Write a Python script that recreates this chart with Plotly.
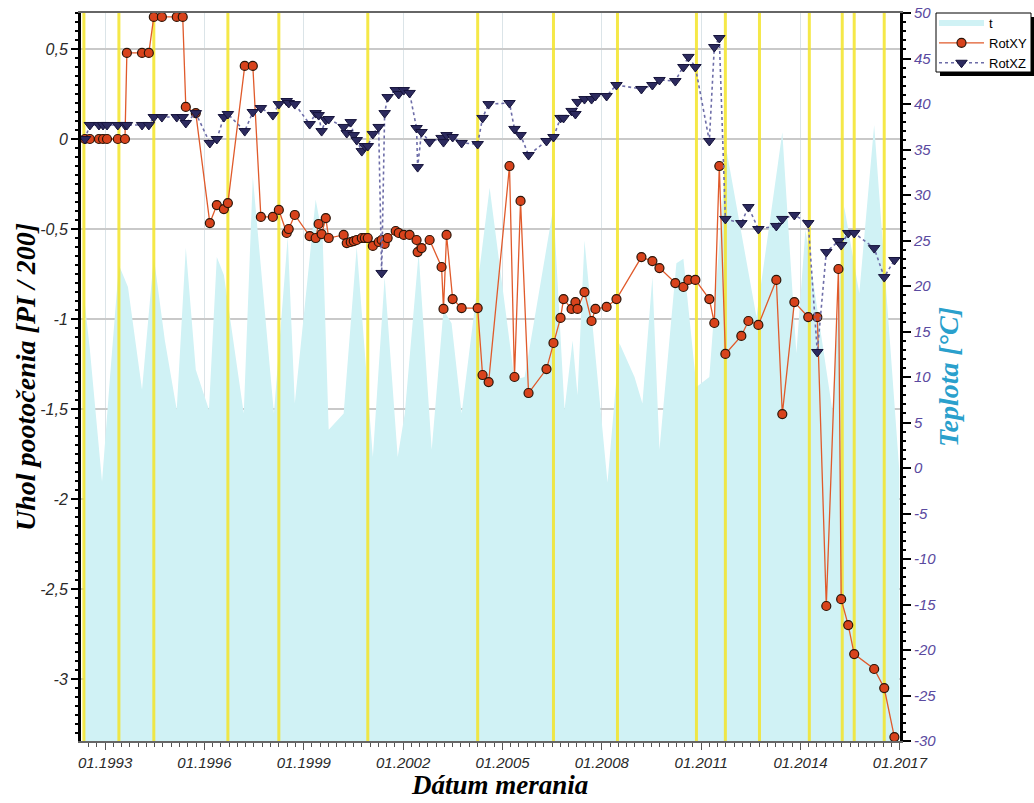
import plotly.graph_objects as go

# ---------------- data ----------------
meas_dates = [
    "1992-05-24","1992-07-17","1992-10-25","1992-12-09","1993-01-22","1993-05-21","1993-08-08","1993-08-29","1994-02-12","1994-04-28",
    "1994-06-22","1994-09-19","1995-03-02","1995-05-07","1995-06-10","1995-09-28","1996-03-01","1996-05-17","1996-08-03","1996-09-16",
    "1997-03-21","1997-06-18","1997-09-15","1998-01-25","1998-04-01","1998-06-27","1998-07-19","1998-09-24","1999-03-07","1999-05-12",
    "1999-06-14","1999-07-17","1999-09-01","1999-10-03","2000-03-16","2000-04-19","2000-06-02","2000-07-05","2000-08-07","2000-10-02",
    "2000-11-04","2000-12-07","2001-02-01","2001-04-06","2001-05-09","2001-06-11","2001-07-14","2001-10-11","2001-11-13","2002-01-08",
    "2002-03-13","2002-05-29","2002-06-10","2002-07-23","2002-10-20","2003-03-01","2003-03-22","2003-04-25","2003-07-01","2003-10-08",
    "2004-04-02","2004-05-26","2004-08-01","2005-03-19","2005-05-13","2005-07-19","2005-10-15","2006-05-01","2006-07-17","2006-10-03",
    "2006-11-05","2007-02-02","2007-03-16","2007-04-08","2007-06-24","2007-09-10","2007-10-23","2008-02-23","2008-06-11","2009-03-13",
    "2009-07-12","2009-09-28","2010-03-22","2010-06-19","2010-08-13","2010-10-29","2011-04-01","2011-05-26","2011-07-20","2011-09-25",
    "2012-03-19","2012-06-05","2012-09-23","2013-04-09","2013-06-14","2013-10-25","2014-03-27","2014-07-05","2014-10-12","2015-02-23",
    "2015-03-25","2015-06-11","2015-08-16","2016-03-23","2016-07-12","2016-11-01",
]

rot_xy = [
    0, 0, 0, 0, 0, 0, 0, 0.478, 0.478, 0.478,
    0.678, 0.678, 0.678, 0.678, 0.178, 0.144, -0.467, -0.367, -0.389, -0.356,
    0.406, 0.406, -0.433, -0.433, -0.394, -0.522, -0.5, -0.422, -0.539, -0.55,
    -0.472, -0.528, -0.439, -0.55, -0.533, -0.578, -0.572, -0.567, -0.561, -0.55,
    -0.55, -0.55, -0.594, -0.572, -0.561, -0.583, -0.55, -0.511, -0.522, -0.533,
    -0.533, -0.561, -0.628, -0.606, -0.561, -0.711, -0.944, -0.533, -0.889, -0.939,
    -0.939, -1.311, -1.35, -0.15, -1.322, -0.344, -1.411, -1.278, -1.133, -0.994,
    -0.889, -0.944, -0.906, -0.944, -0.85, -1.011, -0.944, -0.933, -0.889, -0.656,
    -0.678, -0.717, -0.8, -0.822, -0.783, -0.783, -0.889, -1.022, -0.15, -1.194,
    -1.094, -1.011, -1.033, -0.783, -1.528, -0.906, -0.989, -0.989, -2.594, -0.722,
    -2.556, -2.7, -2.861, -2.944, -3.05, -3.322,
]

rot_xz = [
    0, 0.078, 0.078, 0.078, 0.078, 0.078, 0.078, 0.078, 0.078, 0.078,
    0.122, 0.122, 0.122, 0.122, 0.089, 0.144, -0.022, 0, 0.122, 0.139,
    0.044, 0.15, 0.172, 0.133, 0.194, 0.211, 0.2, 0.194, 0.083, 0.144,
    0.133, 0.044, 0.106, 0.111, 0.067, 0.033, 0.094, 0.022, -0.006, -0.067,
    -0.039, -0.039, 0.028, 0.067, -0.744, 0.144, 0.233, 0.272, 0.25, 0.272,
    0.256, 0.061, -0.156, 0.039, -0.017, 0.006, -0.017, 0.022, 0.011, -0.022,
    -0.028, 0.117, 0.194, 0.2, 0.056, 0.022, -0.089, -0.011, 0.011, 0.117,
    0.117, 0.156, 0.139, 0.206, 0.222, 0.222, 0.239, 0.239, 0.3, 0.278,
    0.3, 0.328, 0.322, 0.4, 0.456, 0.4, -0.011, 0.511, 0.561, -0.444,
    -0.467, -0.378, -0.5, -0.483, -0.444, -0.422, -0.467, -1.183, -0.628, -0.567,
    -0.589, -0.522, -0.522, -0.606, -0.767, -0.672,
]

temp_dates = [
    "1992-05-12","1992-07-17","1992-11-28","1993-02-24","1993-06-02","1993-09-10","1994-02-12","1994-06-22","1994-10-22","1995-03-02",
    "1995-06-10","1995-09-28","1996-02-20","1996-05-17","1996-08-03","1997-03-10","1997-06-18","1998-02-06","1998-07-08","1998-09-24",
    "1999-05-12","1999-07-28","1999-10-03","2000-03-16","2000-08-07","2001-02-01","2001-06-11","2001-11-02","2002-01-19","2002-06-21",
    "2002-11-12","2003-03-22","2003-06-19","2003-10-08","2004-08-12","2005-05-13","2005-09-02","2006-07-17","2006-11-16","2007-02-13",
    "2007-04-08","2007-06-24","2008-03-04","2008-07-14","2008-12-27","2009-03-24","2009-07-12","2009-09-28","2010-04-03","2010-06-19",
    "2010-11-10","2011-04-01","2011-10-06","2012-09-02","2013-06-14","2013-11-16","2014-02-24","2014-12-17","2015-04-28","2015-10-11",
    "2016-03-23","2016-12-25",
]
temp_vals = [
    19, 13, -1.5, 10, 22.3, 19.9, 8.6, 23.2, 14, 6.4,
    24.2, 10.8, 6.4, 23.2, 21.2, 6, 32, 6, 25.4, 7.1,
    29.5, 25.4, 4.2, 6, 24.3, 1.2, 21, 1.2, 6, 23.6,
    2, 17.4, 15.9, 6, 30.8, 9.7, 10, 28.7, 6.4, 14,
    8, 25, -1.6, 13.7, 10, 7.1, 21, 2, 22.5, 23,
    8.9, 10, 35, 16.6, 36.9, 12.6, 26.2, 6.4, 28.7, 19.2,
    37.7, -0.2,
]

event_dates = [
    "1992-05-12","1993-06-02","1994-06-22","1996-09-16","1998-04-01","2000-12-07","2004-04-02","2006-07-17",
    "2008-06-22","2010-11-10","2011-09-25","2012-10-05","2014-04-08","2015-04-06","2015-08-16","2016-07-12",
]

angle_ticks = [-3, -2.5, -2, -1.5, -1, -0.5, 0, 0.5]
angle_labels = ["-3", "-2,5", "-2", "-1,5", "-1", "-0,5", "0", "0,5"]
temp_ticks = list(range(-30, 51, 5))
temp_labels = [str(v) for v in temp_ticks]

ANGLE_RANGE = [-3.344, 0.7]
TEMP_RANGE = [-30, 50]

# plot area in pixels (for paper-coordinate helpers)
PL, PR, PT, PB = 81, 900, 13, 741
def px_x(p):
    return (p - PL) / (PR - PL)
def px_y(p):
    return 1 - (p - PT) / (PB - PT)

# ---------------- figure ----------------
fig = go.Figure()

fig.add_trace(go.Scatter(
    x=temp_dates, y=[TEMP_RANGE[0]] * len(temp_dates), mode="lines",
    line=dict(width=0, color="rgba(0,0,0,0)"), showlegend=False,
    hoverinfo="skip", yaxis="y"))
fig.add_trace(go.Scatter(
    x=temp_dates, y=temp_vals, name="t", mode="none", fill="tonexty",
    fillcolor="rgb(208,242,245)", yaxis="y"))

ex, ey = [], []
for d in event_dates:
    ex += [d, d, None]
    ey += [TEMP_RANGE[0], TEMP_RANGE[1], None]
fig.add_trace(go.Scatter(
    x=ex, y=ey, mode="lines", line=dict(color="rgba(243,228,40,0.85)", width=3),
    showlegend=False, hoverinfo="skip", yaxis="y"))

fig.add_trace(go.Scatter(
    x=meas_dates, y=rot_xy, name="RotXY", mode="lines+markers", yaxis="y2",
    line=dict(color="#e05a2b", width=1.3),
    marker=dict(symbol="circle", size=9, color="#d8431c",
                line=dict(color="#2b1508", width=1.2))))
fig.add_trace(go.Scatter(
    x=meas_dates, y=rot_xz, name="RotXZ", mode="lines+markers", yaxis="y2",
    line=dict(color="#6d6da8", width=1.6, dash="dot"),
    marker=dict(symbol="triangle-down", size=10, color="#2c2a5e",
                line=dict(color="#15133a", width=1))))

tick_font = dict(family="Liberation Sans", size=15, color="#2a2a2a", style="italic")

fig.update_layout(
    width=1034, height=803,
    margin=dict(l=PL, r=1034 - PR, t=PT, b=803 - PB, autoexpand=False),
    paper_bgcolor="white", plot_bgcolor="white",
    showlegend=True,
    legend=dict(x=px_x(934), y=px_y(8), xanchor="left", yanchor="top",
                bgcolor="rgba(0,0,0,0)", borderwidth=0,
                traceorder="normal",
                font=dict(family="Liberation Sans", size=13, color="black"),
                itemwidth=45, tracegroupgap=0),
    xaxis=dict(
        type="date", range=["1992-04-10", "2017-01-02"],
        tick0="1993-01-01", dtick="M36", tickformat="%m.%Y",
        ticks="outside", ticklen=7, tickcolor="#555", tickwidth=1,
        minor=dict(dtick="M3", ticks="outside", ticklen=4, tickcolor="#555", showgrid=False),
        showgrid=True, gridcolor="#dbe4e8", gridwidth=1,
        showline=True, linecolor="#666", linewidth=2, mirror=True,
        zeroline=False, tickfont=tick_font),
    yaxis=dict(
        side="right", range=TEMP_RANGE, tickmode="array",
        tickvals=temp_ticks, ticktext=temp_labels,
        ticks="outside", ticklen=8, tickcolor="black", tickwidth=1.5,
        minor=dict(dtick=1, ticks="outside", ticklen=3, tickcolor="black", showgrid=False),
        showgrid=False, zeroline=False,
        showline=True, linecolor="black", linewidth=3,
        tickfont=dict(family="Liberation Sans", size=15, color="#5a4aa0", style="italic")),
    yaxis2=dict(
        overlaying="y", side="left", range=ANGLE_RANGE, tickmode="array",
        tickvals=angle_ticks, ticktext=angle_labels,
        ticks="outside", ticklen=7, tickcolor="black", tickwidth=1.5,
        minor=dict(dtick=0.05, ticks="outside", ticklen=3, tickcolor="black", showgrid=False),
        showgrid=True, gridcolor="#c9c9c9", gridwidth=1.5, zeroline=False,
        showline=True, linecolor="black", linewidth=3,
        tickfont=dict(family="Liberation Sans", size=16, color="#2a2a2a", style="italic")),
    annotations=[
        dict(text="Uhol pootočenia [PI / 200]", xref="paper", yref="paper",
             x=px_x(25), y=0.5, textangle=-90, showarrow=False,
             xanchor="center", yanchor="middle",
             font=dict(family="Liberation Serif", size=28, color="black",
                       weight="bold", style="italic")),
        dict(text="Teplota [°C]", xref="paper", yref="paper",
             x=px_x(948), y=0.5, textangle=-90, showarrow=False,
             xanchor="center", yanchor="middle",
             font=dict(family="Liberation Serif", size=28, color="#2aa0cc",
                       weight="bold", style="italic")),
        dict(text="Dátum merania", xref="paper", yref="paper",
             x=px_x(500), y=px_y(785), showarrow=False,
             xanchor="center", yanchor="middle",
             font=dict(family="Liberation Serif", size=27, color="black",
                       weight="bold", style="italic")),
    ],
    shapes=[
        # legend drop shadow
        dict(type="rect", xref="paper", yref="paper", layer="below",
             x0=px_x(940), x1=px_x(1035), y0=px_y(76), y1=px_y(17),
             fillcolor="black", line=dict(width=0)),
        # legend box
        dict(type="rect", xref="paper", yref="paper", layer="below",
             x0=px_x(936), x1=px_x(1031), y0=px_y(72), y1=px_y(13),
             fillcolor="white", line=dict(color="black", width=1)),
    ],
)

fig.write_html("out.html", config={"displayModeBar": False},
               post_script="document.body.style.margin='0';document.body.style.overflow='hidden';")
